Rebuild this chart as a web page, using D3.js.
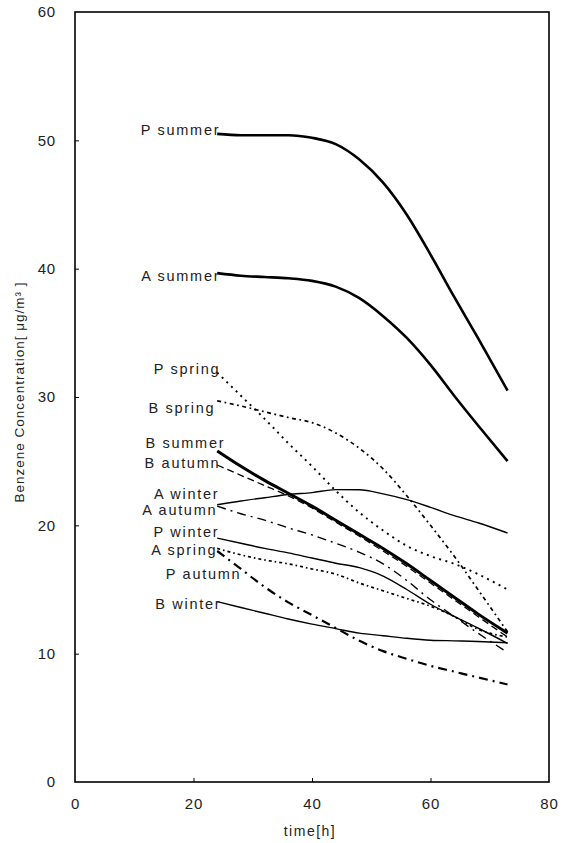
<!DOCTYPE html>
<html>
<head>
<meta charset="utf-8">
<script src="https://cdn.jsdelivr.net/npm/d3@7"></script>
<style>
  html, body { margin: 0; padding: 0; background: #fff; }
  svg { display: block; }
  text { font-family: "Liberation Sans", Arial, sans-serif; fill: #222; }
</style>
</head>
<body>
<svg id="chart" width="576" height="843"></svg>
<script>
// Sampling times (hours) shared by every series
const hours = [24, 28, 32, 36, 40, 44, 48, 52, 56, 60, 64, 68, 73];

// Benzene concentration (µg/m³) per site/season
const pSummer = [50.5, 50.4, 50.4, 50.4, 50.2, 49.7, 48.5, 46.7, 44.2, 41.1, 37.8, 34.6, 30.5];
const aSummer = [39.65, 39.45, 39.35, 39.25, 39.05, 38.6, 37.7, 36.3, 34.6, 32.5, 30.1, 27.8, 25.0];
const pSpring = [31.9, 30.1, 28.3, 26.4, 24.6, 22.7, 21.0, 19.6, 18.4, 17.6, 17.0, 16.2, 15.0];
const bSpring = [29.7, 29.3, 28.85, 28.4, 28.0, 27.2, 26.0, 24.4, 22.3, 20.0, 17.6, 15.0, 11.7];
const bSummer = [25.8, 24.6, 23.5, 22.5, 21.5, 20.4, 19.3, 18.2, 17.0, 15.7, 14.4, 13.1, 11.6];
const bAutumn = [24.7, 23.9, 23.1, 22.3, 21.35, 20.25, 19.15, 18.0, 16.8, 15.5, 14.2, 12.9, 11.3];
const aWinter = [21.6, 21.9, 22.15, 22.4, 22.55, 22.78, 22.77, 22.45, 22.0, 21.4, 20.75, 20.2, 19.4];
const aAutumn = [21.5, 20.9, 20.4, 19.8, 19.25, 18.6, 17.9, 17.0, 15.7, 14.2, 12.9, 11.6, 10.1];
const pWinter = [19.0, 18.6, 18.2, 17.85, 17.45, 17.05, 16.7, 16.05, 15.0, 13.85, 12.9, 12.0, 10.8];
const aSpring = [18.2, 17.7, 17.3, 17.0, 16.6, 16.2, 15.5, 14.9, 14.3, 13.7, 12.9, 11.9, 11.3];
const pAutumn = [18.0, 16.6, 15.2, 14.0, 13.0, 12.0, 11.0, 10.2, 9.6, 9.05, 8.6, 8.15, 7.6];
const bWinter = [14.05, 13.6, 13.15, 12.7, 12.3, 11.95, 11.6, 11.4, 11.2, 11.05, 11.0, 10.95, 10.85];

const seriesNames = ["P summer", "A summer", "P spring", "B spring", "B summer", "B autumn",
                     "A winter", "A autumn", "P winter", "A spring", "P autumn", "B winter"];
const seriesValues = [pSummer, aSummer, pSpring, bSpring, bSummer, bAutumn,
                      aWinter, aAutumn, pWinter, aSpring, pAutumn, bWinter];

const xTicks = [0, 20, 40, 60, 80];
const yTicks = [0, 10, 20, 30, 40, 50, 60];

// Line appearance per series
const lineStyle = {
  "P summer": { w: 2.6, dash: null },
  "A summer": { w: 2.6, dash: null },
  "B summer": { w: 3.0, dash: null },
  "A winter": { w: 1.4, dash: null },
  "P winter": { w: 1.4, dash: null },
  "B winter": { w: 1.4, dash: null },
  "P spring": { w: 1.9, dash: "2,4.5" },
  "B spring": { w: 1.7, dash: "4,3.5,1.8,3.5" },
  "A spring": { w: 1.7, dash: "3,3,1.6,3" },
  "A autumn": { w: 1.4, dash: "9,5,2,5" },
  "B autumn": { w: 1.3, dash: "7,4" },
  "P autumn": { w: 2.2, dash: "9,5,2,5" }
};

// Label placement relative to each line's first point (pixels)
const labelOffset = {
  "P summer": [3, 1], "A summer": [3, 8], "P spring": [3, 1], "B spring": [-2, 12],
  "B summer": [8, -3], "B autumn": [3, 3], "A winter": [2, -6], "A autumn": [0, 9],
  "P winter": [2, -1.5], "A spring": [0, 7], "P autumn": [24, 28], "B winter": [4, 7]
};

const svg = d3.select("#chart");
const margin = { left: 75, right: 27, top: 12, bottom: 61 };
const W = 576, H = 843;

const x = d3.scaleLinear().domain([0, 80]).range([margin.left, W - margin.right]);
const y = d3.scaleLinear().domain([0, 60]).range([H - margin.bottom, margin.top]);

// Plot frame
svg.append("rect")
  .attr("x", x(0)).attr("y", y(60))
  .attr("width", x(80) - x(0)).attr("height", y(0) - y(60))
  .attr("fill", "none").attr("stroke", "#000").attr("stroke-width", 1.6);

// Inward ticks on the left and bottom axes
const yAxis = d3.axisLeft(y).tickValues(yTicks).tickSize(-4).tickPadding(19).tickFormat(d3.format("d"));
const gy = svg.append("g").attr("transform", `translate(${x(0)},0)`).call(yAxis);
gy.select(".domain").remove();
gy.selectAll(".tick line").attr("stroke", "#000").attr("stroke-width", 1)
  .filter(d => d === 0 || d === 60).remove();
gy.selectAll(".tick text").attr("font-size", 15).attr("letter-spacing", 0.8)
  .attr("fill", "#222").attr("font-family", "Liberation Sans, Arial, sans-serif");

const xAxis = d3.axisBottom(x).tickValues(xTicks).tickSize(-4).tickPadding(16).tickFormat(d3.format("d"));
const gx = svg.append("g").attr("transform", `translate(0,${y(0)})`).call(xAxis);
gx.select(".domain").remove();
gx.selectAll(".tick line").attr("stroke", "#000").attr("stroke-width", 1)
  .filter(d => d === 0 || d === 80).remove();
gx.selectAll(".tick text").attr("font-size", 15).attr("letter-spacing", 0.8)
  .attr("fill", "#222").attr("font-family", "Liberation Sans, Arial, sans-serif");

// Axis titles
svg.append("text")
  .attr("x", (x(0) + x(80)) / 2 - 2).attr("y", 836)
  .attr("text-anchor", "middle").attr("font-size", 14).attr("letter-spacing", 1.5)
  .text("time[h]");

svg.append("text")
  .attr("transform", `translate(24,${(y(0) + y(60)) / 2 - 5}) rotate(-90)`)
  .attr("text-anchor", "middle").attr("font-size", 13.5).attr("letter-spacing", 1)
  .text("Benzene Concentration[ μg/m³ ]");

// Series lines
const line = d3.line()
  .x((d, i) => x(hours[i]))
  .y(d => y(d))
  .curve(d3.curveMonotoneX);

seriesNames.forEach((name, k) => {
  const st = lineStyle[name];
  svg.append("path")
    .datum(seriesValues[k])
    .attr("d", line)
    .attr("fill", "none")
    .attr("stroke", "#000")
    .attr("stroke-width", st.w)
    .attr("stroke-dasharray", st.dash)
    .attr("stroke-linejoin", "round");
});

// Series labels at the start of each line
seriesNames.forEach((name, k) => {
  const [dx, dy] = labelOffset[name];
  svg.append("text")
    .attr("x", x(hours[0]) + dx)
    .attr("y", y(seriesValues[k][0]) + dy)
    .attr("text-anchor", "end")
    .attr("font-size", 14.5)
    .attr("letter-spacing", 1.7)
    .text(name);
});
</script>
</body>
</html>
